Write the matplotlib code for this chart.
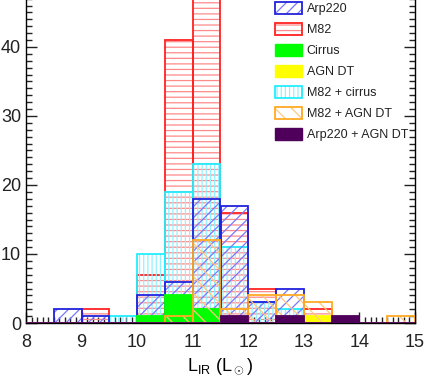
import numpy as np
import matplotlib
matplotlib.use("Agg")
from matplotlib import pyplot as plt
from matplotlib.patches import Patch
from matplotlib.legend_handler import HandlerTuple
from matplotlib.ticker import MultipleLocator

# bin left edges, width 0.5, from 8 to 14.5
bin_left = [8.0, 8.5, 9.0, 9.5, 10.0, 10.5, 11.0, 11.5, 12.0, 12.5, 13.0, 13.5, 14.0, 14.5]

m82 = [0, 0, 2, 0, 7, 41, 48, 16, 5, 0, 2, 0, 0, 0]
m82_cirrus = [0, 0, 0, 1, 10, 19, 23, 11, 3, 2, 0, 0, 0, 0]
arp220 = [0, 2, 1, 0, 4, 6, 18, 17, 3, 5, 0, 0, 0, 0]
cirrus = [0, 0, 0, 0, 1, 4, 2, 0, 0, 0, 0, 0, 0, 0]
agn_dt = [0, 0, 0, 0, 0, 0, 0, 0, 0, 0, 1, 0, 0, 0]
m82_agn = [0, 0, 0, 0, 0, 1, 12, 2, 4, 4, 3, 0, 0, 1]
arp220_agn = [0, 0, 0, 0, 0, 0, 0, 1, 0, 1, 0, 1, 0, 0]

plt.rcParams['font.family'] = ['Liberation Sans', 'DejaVu Sans']
plt.rcParams['mathtext.fontset'] = 'custom'
plt.rcParams['mathtext.rm'] = 'Liberation Sans'
plt.rcParams['hatch.linewidth'] = 0.9

fig = plt.figure(figsize=(4.26, 3.82), dpi=100)
ax = fig.add_axes([26/426, 59/382, 389/426, 345/382])

w = 0.5

def hatched(vals, line_c, hatch_c, hatch, z):
    ax.bar(bin_left, vals, width=w, align='edge', facecolor='none',
           edgecolor=hatch_c, hatch=hatch, linewidth=0, zorder=z)
    ax.bar(bin_left, vals, width=w, align='edge', fill=False,
           edgecolor=line_c, linewidth=1.3, zorder=z + 0.1)

def solid(vals, c, z):
    ax.bar(bin_left, vals, width=w, align='edge', facecolor=c,
           edgecolor=c, linewidth=1.3, zorder=z)

# colours
c_arp = '#2222dd'; h_arp = '#7878ff'
c_m82 = '#ff2222'; h_m82 = '#ff8a8a'
c_cir = '#00ff00'
c_agn = '#ffff00'
c_mc = '#22eeff'; h_mc = '#90f2ff'
c_ma = '#ffaa22'; h_ma = '#ffc880'
c_aa = '#4e005a'

hatched(m82, c_m82, h_m82, '---', 2)
hatched(m82_cirrus, c_mc, h_mc, '||||', 3)
hatched(arp220, c_arp, h_arp, '///', 4)
solid(cirrus, c_cir, 5)
solid(agn_dt, c_agn, 6)
hatched(m82_agn, c_ma, h_ma, '\\\\', 7)
solid(arp220_agn, c_aa, 8)

ax.set_xlim(8, 15)
ax.set_ylim(0, 50)
ax.xaxis.set_major_locator(MultipleLocator(1))
ax.xaxis.set_minor_locator(MultipleLocator(0.1))
ax.yaxis.set_major_locator(MultipleLocator(10))
ax.yaxis.set_minor_locator(MultipleLocator(1))
ax.tick_params(which='both', direction='in', top=True, right=True, labelsize=13, colors='#222222')
ax.tick_params(which='major', length=8, width=1)
ax.tick_params(which='minor', length=4, width=1)
ax.tick_params(axis='x', pad=8)
for s in ax.spines.values():
    s.set_linewidth(1)
ax.set_xlabel(r'L$_{\rm IR}$ (L$_\odot$)', fontsize=13, labelpad=4)

# legend
names = ['Arp220', 'M82', 'Cirrus', 'AGN DT', 'M82 + cirrus', 'M82 + AGN DT', 'Arp220 + AGN DT']
def hp(line_c, hatch_c, hatch):
    return (Patch(facecolor='white', edgecolor=hatch_c, hatch=hatch, linewidth=0),
            Patch(fill=False, edgecolor=line_c, linewidth=1.3))
handles = [hp(c_arp, h_arp, '///'), hp(c_m82, h_m82, '---'),
           Patch(facecolor=c_cir, edgecolor=c_cir), Patch(facecolor=c_agn, edgecolor=c_agn),
           hp(c_mc, h_mc, '||||'), hp(c_ma, h_ma, '\\\\'),
           Patch(facecolor=c_aa, edgecolor=c_aa)]
leg = ax.legend(handles, names, loc='upper left', bbox_to_anchor=(266/426, 1 + 7/382),
                bbox_transform=fig.transFigure, frameon=False, fontsize=9,
                handlelength=2.2, handleheight=1.1, labelspacing=0.62, handletextpad=0.35,
                borderpad=0.2, handler_map={tuple: HandlerTuple(ndivide=1, pad=0)})
for t in leg.get_texts():
    t.set_color('#222222')

fig.savefig('out.png', dpi=100)
